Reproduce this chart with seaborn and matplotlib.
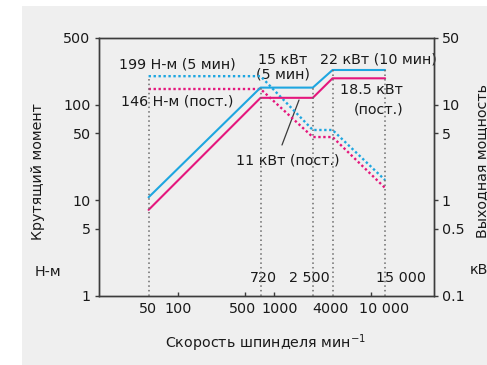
import matplotlib
matplotlib.use("Agg")
import numpy as np
import pandas as pd
import matplotlib.pyplot as plt
import seaborn as sns
from matplotlib.patches import Rectangle
from matplotlib.ticker import FixedLocator, FixedFormatter, NullLocator
from matplotlib.transforms import ScaledTranslation

# ---------------- data ----------------
rpm = [50, 720, 2500, 4000, 14000]
power_5min = [1.07, 15.1, 15.1, 23.1, 23.1]      # kW  (solid blue)
power_cont = [0.79, 11.8, 11.8, 18.9, 18.9]      # kW  (solid magenta)
torque_5min = [199, 199, 54.3, 54.3, 16.2]       # N-m (dotted blue)
torque_cont = [146, 146, 45.8, 45.8, 13.4]       # N-m (dotted magenta)

x_ticks = [50, 100, 500, 1000, 4000, 10000]
x_tick_labels = ["50", "100", "500", "1000", "4000", "10 000"]
torque_ticks = [1, 5, 10, 50, 100, 500]
torque_tick_labels = ["1", "5", "10", "50", "100", "500"]
power_ticks = [0.1, 0.5, 1, 5, 10, 50]
power_tick_labels = ["0.1", "0.5", "1", "5", "10", "50"]

# ---------------- style ----------------
sns.set_style("white")
plt.rcParams["font.family"] = ["DejaVu Sans"]
plt.rcParams["mathtext.default"] = "regular"
BG = "#efefef"
SPINE = "#3c3c3c"
BLUE = "#1ea6e0"
MAGENTA = "#e5177d"
GRID = "#6a6a6a"
FS = 10.3

fig = plt.figure(figsize=(4.87, 3.65), dpi=100, facecolor=BG)
fig.patches.append(Rectangle((0, 0), 22 / 487, 1, transform=fig.transFigure,
                             facecolor="white", edgecolor="none", zorder=0))
fig.patches.append(Rectangle((0, 1 - 6 / 365), 1, 6 / 365, transform=fig.transFigure,
                             facecolor="white", edgecolor="none", zorder=0))

ax = fig.add_axes([99 / 487, 1 - 295.5 / 365, 335 / 487, 257.5 / 365])
ax.set_facecolor(BG)
ax.set_xscale("log")
ax.set_yscale("log")
ax.set_xlim(15.34, 44870)
ax.set_ylim(1, 500)

ax2 = ax.twinx()
ax2.set_yscale("log")
ax2.set_ylim(0.1, 50)

# torque (dotted)
df_t = pd.DataFrame({"rpm": rpm * 2,
                     "torque": torque_5min + torque_cont,
                     "rating": ["5min"] * len(rpm) + ["cont"] * len(rpm)})
sns.lineplot(data=df_t, x="rpm", y="torque", hue="rating",
             palette={"5min": BLUE, "cont": MAGENTA}, ax=ax, legend=False,
             estimator=None, sort=False, linewidth=1.7, zorder=3)
for ln in ax.lines:
    ln.set_linestyle((0, (1, 1.1)))

# power (solid)
df_p = pd.DataFrame({"rpm": rpm * 2,
                     "power": power_5min + power_cont,
                     "rating": ["5min"] * len(rpm) + ["cont"] * len(rpm)})
sns.lineplot(data=df_p, x="rpm", y="power", hue="rating",
             palette={"5min": BLUE, "cont": MAGENTA}, ax=ax2, legend=False,
             estimator=None, sort=False, linewidth=1.5, zorder=3)

# vertical reference lines
ax2.vlines(rpm[1:], 0.1, power_5min[1:], colors=GRID, linestyles=(0, (1, 2)),
           linewidth=1.1, zorder=4)
ax2.vlines([rpm[0]], 0.1, torque_5min[0] / 10, colors=GRID, linestyles=(0, (1, 2)),
           linewidth=1.1, zorder=4)

# annotations
tkw = dict(fontsize=FS, color="#1a1a1a", zorder=1)
ax.text(100, 261, "199 Н-м (5 мин)", ha="center", va="center", **tkw)
ax.text(98, 109, "146 Н-м (пост.)", ha="center", va="center", **tkw)
ax.text(1230, 248, "15 кВт\n(5 мин)", ha="center", va="center", linespacing=1.05, **tkw)
ax.text(11830, 301, "22 кВт (10 мин)", ha="center", va="center", **tkw)
ax.text(21600, 142.6, "18.5 кВт", ha="right", va="center", **tkw)
ax.text(21900, 88, "(пост.)", ha="right", va="center", **tkw)
ax.text(1384, 26.3, "11 кВт (пост.)", ha="center", va="center", **tkw)
ax.plot([1200, 1800], [37.8, 112], color="#3a3a3a", lw=0.9, zorder=2)
ax.text(763, 1.52, "720", ha="center", va="center", **tkw)
ax.text(2285, 1.52, "2 500", ha="center", va="center", **tkw)
ax.text(20400, 1.52, "15 000", ha="center", va="center", **tkw)

# axes styling
for a in (ax, ax2):
    for sp in a.spines.values():
        sp.set_color(SPINE)
        sp.set_linewidth(1.0)
        sp.set_visible(True)

ax.set_xlabel("")
ax.set_ylabel("")
ax2.set_ylabel("")
ax.xaxis.set_major_locator(FixedLocator(x_ticks))
ax.xaxis.set_major_formatter(FixedFormatter(x_tick_labels))
ax.xaxis.set_minor_locator(NullLocator())
ax.yaxis.set_major_locator(FixedLocator(torque_ticks))
ax.yaxis.set_major_formatter(FixedFormatter(torque_tick_labels))
ax.yaxis.set_minor_locator(NullLocator())
ax2.yaxis.set_major_locator(FixedLocator(power_ticks))
ax2.yaxis.set_major_formatter(FixedFormatter(power_tick_labels))
ax2.yaxis.set_minor_locator(NullLocator())

ax.tick_params(axis="x", which="major", direction="in", length=3, width=1, color=SPINE,
               pad=5, labelsize=FS, labelcolor="#1a1a1a", bottom=True, top=False)
ax.tick_params(axis="y", which="major", direction="out", length=3, width=1, color=SPINE,
               pad=3, labelsize=FS, labelcolor="#1a1a1a", left=True, right=False)
ax2.tick_params(axis="y", which="major", direction="out", length=3, width=1, color=SPINE,
                pad=2.5, labelsize=FS, labelcolor="#1a1a1a", right=True, left=False)
xt = ax.xaxis.get_major_ticks()
xt[0].tick1line.set_visible(False)
xt[4].tick1line.set_visible(False)
# the printed labels sit slightly off their ticks in the original
label_shift_px = [-1, 0, -2.5, 5.5, -2, 13]
for tk, dx in zip(xt, label_shift_px):
    tk.label1.set_transform(tk.label1.get_transform() +
                            ScaledTranslation(dx / 100, 0, fig.dpi_scale_trans))

# axis titles
fig.text(38 / 487, 1 - 172 / 365, "Крутящий момент", rotation=90, ha="center", va="center",
         fontsize=FS, color="#1a1a1a")
fig.text(48 / 487, 1 - 272 / 365, "Н-м", ha="center", va="center", fontsize=FS, color="#1a1a1a")
fig.text(482 / 487, 1 - 161 / 365, "Выходная мощность", rotation=90, ha="center", va="center",
         fontsize=FS, color="#1a1a1a")
fig.text(470 / 487, 1 - 270 / 365, "кВт", ha="left", va="center", fontsize=FS, color="#1a1a1a")
fig.text(266 / 487, 1 - 343 / 365, "Скорость шпинделя мин$^{-1}$", ha="center", va="center",
         fontsize=FS, color="#1a1a1a")

fig.savefig("out.png", dpi=100, facecolor=BG)
